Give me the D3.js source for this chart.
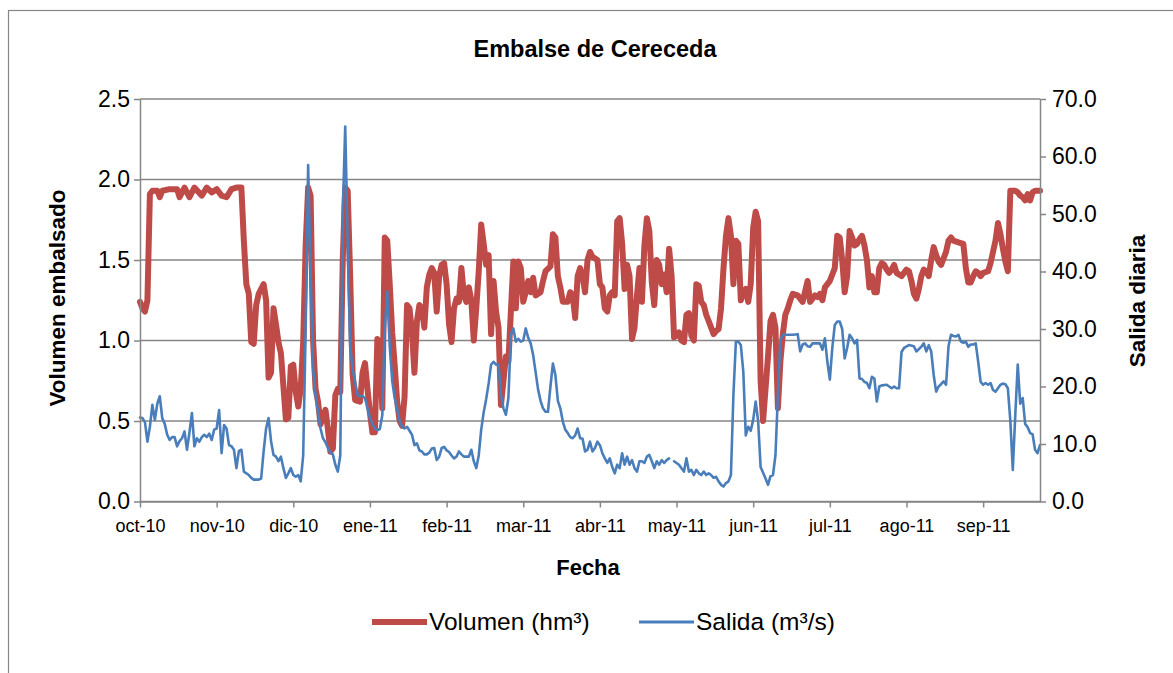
<!DOCTYPE html>
<meta charset="utf-8">
<style>
  body { margin: 0; background: #fff; }
  svg text { font-family: "Liberation Sans", Arial, sans-serif; fill: #000; }
</style>
<body>
<div id="chart"></div>
<script src="https://cdn.jsdelivr.net/npm/d3@7"></script>
<script>
// ——— data: day offset from 1 Oct 2010, value ———
const startDate = "2010-10-01";

// Volumen embalsado (hm³), left axis
const volumen = [
  [0,1.24],[1,1.20],[2,1.18],[3,1.25],[4,1.91],[5,1.93],[7,1.93],[8,1.89],[9,1.93],[12,1.94],[15,1.94],[16,1.89],
  [18,1.95],[20,1.89],[22,1.95],[25,1.90],[27,1.95],[29,1.92],[31,1.94],[33,1.90],[35,1.89],[37,1.94],[39,1.95],
  [41,1.95],[42,1.62],[43,1.35],[44,1.29],[45,0.99],[46,0.98],[47,1.22],[48,1.29],[50,1.35],[51,1.25],[52,0.77],
  [53,0.80],[54,1.20],[55,1.10],[56,0.99],[57,0.92],[59,0.51],[60,0.52],[61,0.84],[62,0.85],[63,0.68],[64,0.59],
  [65,0.70],[66,0.99],[67,1.59],[68,1.95],[69,1.90],[70,1.00],[71,0.70],[72,0.62],[73,0.48],[75,0.57],[76,0.45],
  [77,0.31],[78,0.33],[79,0.66],[80,0.70],[81,0.68],[82,1.50],[83,1.95],[84,1.93],[85,1.40],[86,0.79],[87,0.63],
  [89,0.62],[90,0.80],[91,0.86],[92,0.70],[93,0.55],[94,0.43],[95,0.43],[96,1.01],[97,0.98],[98,0.58],[99,1.64],
  [100,1.62],[101,1.35],[102,1.05],[103,0.85],[104,0.62],[105,0.50],[106,0.47],[107,0.65],[108,1.22],[109,1.20],
  [110,1.05],[111,0.80],[112,1.12],[113,1.22],[114,1.20],[115,1.08],[116,1.33],[117,1.41],[118,1.45],[119,1.42],
  [120,1.18],[121,1.40],[122,1.47],[123,1.48],[124,1.35],[125,1.10],[126,0.99],[127,1.20],[128,1.26],[129,1.24],
  [130,1.45],[131,1.28],[132,1.24],[133,1.33],[134,1.25],[135,1.00],[136,1.20],[137,1.43],[138,1.72],[139,1.60],
  [140,1.47],[141,1.53],[142,1.04],[143,1.37],[144,1.18],[145,1.08],[146,0.60],[147,0.75],[148,0.90],[149,0.87],
  [150,1.18],[151,1.49],[152,1.20],[153,1.49],[154,1.45],[155,1.24],[156,1.30],[157,1.37],[158,1.30],[159,1.39],
  [160,1.28],[162,1.30],[163,1.37],[164,1.43],[166,1.46],[167,1.66],[168,1.64],[169,1.40],[170,1.33],[171,1.24],
  [173,1.24],[174,1.30],[175,1.28],[176,1.14],[177,1.40],[178,1.45],[179,1.40],[180,1.30],[181,1.50],[182,1.55],
  [183,1.52],[185,1.50],[186,1.35],[187,1.33],[188,1.20],[189,1.18],[190,1.28],[191,1.30],[192,1.28],[193,1.74],
  [194,1.76],[195,1.60],[196,1.32],[197,1.47],[198,1.40],[199,1.01],[200,1.08],[201,1.28],[202,1.45],[203,1.24],
  [204,1.59],[205,1.76],[206,1.68],[207,1.36],[208,1.22],[209,1.50],[210,1.47],[211,1.35],[212,1.41],[213,1.30],
  [214,1.57],[215,1.40],[216,1.02],[217,1.03],[218,1.05],[219,1.00],[220,0.99],[221,1.16],[222,1.17],[223,1.03],
  [224,1.00],[225,1.35],[226,1.34],[227,1.24],[228,1.22],[229,1.16],[230,1.12],[231,1.08],[232,1.04],[233,1.06],
  [234,1.07],[235,1.20],[236,1.45],[237,1.65],[238,1.76],[239,1.65],[240,1.35],[241,1.62],[242,1.60],[243,1.25],
  [244,1.30],[245,1.32],[246,1.24],[247,1.35],[248,1.70],[249,1.80],[250,1.74],[251,0.75],[252,0.50],[253,0.70],
  [254,0.90],[255,1.12],[256,1.16],[257,1.08],[258,0.58],[259,0.87],[260,1.04],[261,1.16],[262,1.20],[263,1.25],
  [264,1.29],[266,1.28],[268,1.24],[270,1.37],[271,1.24],[272,1.26],[273,1.28],[274,1.27],[275,1.29],[276,1.25],
  [277,1.33],[278,1.35],[279,1.37],[280,1.41],[281,1.45],[282,1.65],[283,1.64],[284,1.50],[285,1.30],[286,1.40],
  [287,1.68],[288,1.64],[289,1.59],[290,1.60],[291,1.63],[292,1.65],[293,1.59],[294,1.50],[295,1.33],[296,1.40],
  [297,1.30],[298,1.30],[299,1.45],[300,1.48],[301,1.47],[302,1.44],[303,1.42],[304,1.44],[305,1.47],[306,1.42],
  [308,1.40],[310,1.44],[311,1.43],[312,1.37],[313,1.29],[314,1.26],[315,1.32],[316,1.40],[317,1.44],[318,1.43],
  [319,1.40],[320,1.50],[321,1.58],[322,1.53],[323,1.49],[324,1.47],[325,1.51],[326,1.55],[327,1.62],[328,1.64],
  [329,1.62],[331,1.61],[333,1.60],[334,1.45],[335,1.36],[336,1.36],[337,1.40],[338,1.43],[339,1.42],[340,1.40],
  [341,1.42],[343,1.43],[344,1.48],[345,1.55],[346,1.62],[347,1.73],[348,1.66],[349,1.57],[350,1.49],[351,1.43],
  [352,1.93],[354,1.93],[355,1.92],[356,1.90],[357,1.89],[358,1.87],[359,1.91],[360,1.87],[361,1.92],[362,1.93],
  [364,1.93]
];

// Salida diaria (m³/s), right axis; null = missing day
const salida = [
  [0,14.6],[1,14.5],[2,13.8],[3,10.4],[4,13.0],[5,16.8],[6,14.2],[7,17.0],[8,18.3],[9,14.5],[10,13.5],[11,11.6],
  [12,10.7],[13,11.2],[14,11.2],[15,9.6],[16,10.5],[17,11.0],[18,12.2],[19,9.0],[20,12.0],[21,15.4],[22,9.6],
  [23,11.0],[24,10.4],[25,11.2],[26,11.6],[27,11.2],[28,11.8],[29,10.7],[30,12.5],[31,12.7],[32,15.9],[33,8.4],
  [34,13.3],[35,12.7],[36,9.8],[37,9.6],[38,9.0],[39,5.8],[40,8.8],[41,9.0],[42,5.2],[44,4.6],[45,4.1],[46,3.8],
  [48,3.8],[49,4.0],[50,8.7],[51,12.7],[52,14.5],[53,10.5],[54,8.1],[55,7.8],[56,7.0],[57,7.8],[58,5.8],[59,4.1],
  [60,4.9],[61,5.8],[62,4.6],[63,4.3],[64,4.6],[65,3.5],[66,8.0],[67,30.0],[68,58.5],[69,40.0],[70,23.0],[71,18.5],
  [72,15.6],[73,12.7],[74,11.0],[75,10.3],[76,9.3],[77,8.5],[78,8.2],[79,6.4],[80,5.2],[81,8.0],[82,50.0],[83,65.2],
  [84,45.0],[85,27.0],[86,23.0],[87,20.8],[88,18.5],[89,18.3],[90,18.3],[91,18.0],[92,16.2],[93,14.5],[94,13.5],
  [95,12.7],[96,12.4],[97,12.6],[98,15.0],[99,30.0],[100,36.5],[101,27.0],[102,21.0],[103,18.0],[104,16.2],
  [105,14.0],[106,13.0],[107,12.7],[108,13.0],[109,12.3],[110,11.6],[111,9.8],[112,10.1],[113,8.9],[114,8.7],
  [115,8.2],[116,8.2],[117,8.5],[118,9.2],[119,9.3],[120,7.2],[121,7.8],[122,9.3],[123,9.5],[124,8.9],[125,8.6],
  [126,8.0],[127,7.5],[128,7.8],[129,8.7],[130,8.2],[131,7.8],[132,7.8],[133,7.8],[134,9.0],[135,7.0],[136,5.8],
  [137,8.0],[138,12.5],[139,15.5],[140,17.8],[141,20.5],[142,23.8],[143,24.3],[144,23.8],[145,23.8],[146,18.5],
  [147,16.2],[148,15.1],[149,18.0],[150,29.0],[151,30.1],[152,27.8],[153,28.3],[154,27.8],[155,28.0],[156,30.1],
  [157,28.5],[158,27.5],[159,25.5],[160,22.5],[161,19.5],[162,17.5],[163,16.2],[164,15.6],[165,15.6],[166,20.0],
  [167,24.0],[168,22.0],[169,17.5],[170,16.2],[171,13.9],[172,12.5],[173,11.9],[174,11.2],[175,11.0],[176,11.5],
  [177,12.7],[178,11.0],[179,10.9],[180,8.7],[181,9.0],[182,10.4],[183,8.7],[184,9.3],[185,10.4],[186,9.8],
  [187,8.4],[188,7.5],[189,6.7],[190,7.5],[191,6.0],[192,4.9],[193,6.4],[194,5.8],[195,8.4],[196,6.4],[197,7.8],
  [198,6.4],[199,7.2],[200,5.8],[201,5.2],[202,7.0],[203,7.0],[204,6.7],[205,7.8],[206,8.1],[207,7.0],[208,5.8],
  [209,7.0],[210,6.4],[211,7.2],[212,6.7],[213,7.2],[214,7.5],[215,null],[216,7.0],[217,6.7],[218,6.4],[219,5.8],
  [220,5.2],[221,7.5],[222,5.2],[223,5.5],[224,4.6],[225,5.5],[226,4.9],[227,4.6],[228,5.2],[229,4.6],[230,4.9],
  [231,4.6],[232,4.1],[233,4.3],[234,3.5],[235,2.9],[236,2.6],[237,3.2],[238,3.5],[239,4.6],[240,18.5],[241,27.8],
  [242,27.8],[243,27.2],[244,22.6],[245,11.5],[246,13.0],[247,12.3],[248,14.2],[249,17.4],[250,14.0],[251,6.0],
  [252,5.0],[253,4.0],[254,2.9],[255,4.4],[256,4.6],[257,8.0],[258,18.5],[259,28.0],[260,29.0],[262,29.0],
  [264,29.0],[266,29.1],[267,26.1],[268,27.3],[269,27.5],[270,27.0],[271,26.9],[272,27.5],[273,27.5],[274,27.5],
  [275,27.5],[276,26.4],[277,28.4],[278,24.3],[279,21.2],[280,26.7],[281,30.7],[282,31.3],[283,31.3],[284,30.0],
  [285,24.9],[286,26.7],[287,29.0],[288,28.4],[289,27.5],[290,28.1],[291,21.4],[292,21.3],[293,20.8],[294,20.6],
  [295,19.7],[296,21.7],[297,21.4],[298,17.4],[299,20.0],[300,20.2],[302,20.3],[304,19.7],[305,20.0],[306,19.7],
  [307,19.7],[308,26.0],[309,26.7],[311,27.2],[313,27.0],[314,26.1],[316,26.9],[317,27.5],[318,26.1],[319,27.2],
  [320,26.1],[321,22.0],[322,19.1],[323,20.0],[324,20.4],[325,20.9],[326,20.3],[327,27.0],[328,29.0],[329,28.8],
  [330,28.7],[331,29.0],[332,27.8],[333,27.6],[334,27.8],[335,26.9],[336,27.3],[337,27.3],[338,27.5],[339,24.3],
  [340,20.8],[341,20.3],[342,20.6],[343,20.3],[344,20.6],[345,19.4],[346,19.1],[347,19.7],[348,20.3],[349,20.5],
  [350,20.4],[351,19.7],[352,14.0],[353,5.5],[354,15.0],[355,23.8],[356,17.0],[357,18.0],[358,13.5],[359,12.9],
  [360,11.9],[361,11.7],[362,9.0],[363,8.4],[364,9.8]
];

// x ticks (day offsets) and their labels
const xTickDays   = [0, 31, 62, 93, 124, 155, 186, 217, 248, 279, 310, 341];
const xTickLabels = ["oct-10","nov-10","dic-10","ene-11","feb-11","mar-11","abr-11","may-11","jun-11","jul-11","ago-11","sep-11"];
const yLeftTicks  = [0, 0.5, 1.0, 1.5, 2.0, 2.5];
const yRightTicks = [0, 10, 20, 30, 40, 50, 60, 70];

// ——— layout ———
const W = 1173, H = 673;
const plot = { left: 140, right: 1040, top: 99, bottom: 501.5 };
const axisColor = "#868686";
const red = "#BE4B48", blue = "#4A7EBB";

const x  = d3.scaleLinear().domain([0, 364]).range([plot.left, plot.right]);
const yL = d3.scaleLinear().domain([0, 2.5]).range([plot.bottom, plot.top]);
const yR = d3.scaleLinear().domain([0, 70]).range([plot.bottom, plot.top]);

const svg = d3.select("#chart").append("svg")
    .attr("width", W)
    .attr("height", H);

// outer chart frame
svg.append("rect")
    .attr("x", 8.5).attr("y", 10.5)
    .attr("width", W).attr("height", H)
    .attr("fill", "none")
    .attr("stroke", axisColor)
    .attr("stroke-width", 1.2);

// title
svg.append("text")
    .attr("x", 595).attr("y", 57)
    .attr("text-anchor", "middle")
    .attr("font-size", 23.5).attr("font-weight", "bold")
    .text("Embalse de Cereceda");

// gridlines
svg.append("g")
    .selectAll("line")
    .data(yLeftTicks)
    .join("line")
      .attr("x1", plot.left).attr("x2", plot.right)
      .attr("y1", d => yL(d)).attr("y2", d => yL(d))
      .attr("stroke", axisColor)
      .attr("stroke-width", 1.5);

// ——— lines ———
const volLine = d3.line()
    .x(d => x(d[0]))
    .y(d => yL(d[1]));

const salLine = d3.line()
    .defined(d => d[1] != null)
    .x(d => x(d[0]))
    .y(d => yR(d[1]));

svg.append("path")
    .datum(volumen)
    .attr("d", volLine)
    .attr("fill", "none")
    .attr("stroke", red)
    .attr("stroke-width", 6)
    .attr("stroke-linejoin", "round")
    .attr("stroke-linecap", "round");

svg.append("path")
    .datum(salida)
    .attr("d", salLine)
    .attr("fill", "none")
    .attr("stroke", blue)
    .attr("stroke-width", 2.6)
    .attr("stroke-linejoin", "round")
    .attr("stroke-linecap", "round");

// ——— axes ———
const gLeft = svg.append("g")
    .attr("transform", `translate(${plot.left},0)`)
    .call(d3.axisLeft(yL).tickValues(yLeftTicks).tickFormat(d3.format(".1f"))
      .tickSize(6).tickSizeOuter(0).tickPadding(4));

const gRight = svg.append("g")
    .attr("transform", `translate(${plot.right},0)`)
    .call(d3.axisRight(yR).tickValues(yRightTicks).tickFormat(d3.format(".1f"))
      .tickSize(6).tickSizeOuter(0).tickPadding(6));

const gBottom = svg.append("g")
    .attr("transform", `translate(0,${plot.bottom})`)
    .call(d3.axisBottom(x).tickValues(xTickDays).tickFormat((d, i) => xTickLabels[i])
      .tickSize(6).tickSizeOuter(0).tickPadding(12));

[gLeft, gRight, gBottom].forEach(g => {
  g.selectAll(".domain").attr("stroke", axisColor).attr("stroke-width", 1.5);
  g.selectAll(".tick line").attr("stroke", axisColor).attr("stroke-width", 1.5);
  g.selectAll(".tick text").attr("fill", "#000").attr("font-family", null);
});
gLeft.selectAll(".tick text").attr("font-size", 23);
gRight.selectAll(".tick text").attr("font-size", 23);
gBottom.selectAll(".tick text").attr("font-size", 18);

// axis titles
svg.append("text")
    .attr("transform", "translate(65,298) rotate(-90)")
    .attr("text-anchor", "middle")
    .attr("font-size", 22.5).attr("font-weight", "bold")
    .text("Volumen embalsado");

svg.append("text")
    .attr("transform", "translate(1145,301) rotate(-90)")
    .attr("text-anchor", "middle")
    .attr("font-size", 22.5).attr("font-weight", "bold")
    .text("Salida diaria");

svg.append("text")
    .attr("x", 588).attr("y", 575)
    .attr("text-anchor", "middle")
    .attr("font-size", 22).attr("font-weight", "bold")
    .text("Fecha");

// ——— legend ———
const legend = [
  { name: "Volumen (hm³)", color: red,  width: 6, x: 372 },
  { name: "Salida (m³/s)", color: blue, width: 3, x: 639 }
];
const lg = svg.append("g")
  .selectAll("g")
  .data(legend)
  .join("g")
    .attr("transform", d => `translate(${d.x},622)`);

lg.append("line")
    .attr("x1", 0).attr("x2", 55)
    .attr("stroke", d => d.color)
    .attr("stroke-width", d => d.width);

lg.append("text")
    .attr("x", 57).attr("y", 8)
    .attr("font-size", 24.5)
    .text(d => d.name);
</script>
</body>
